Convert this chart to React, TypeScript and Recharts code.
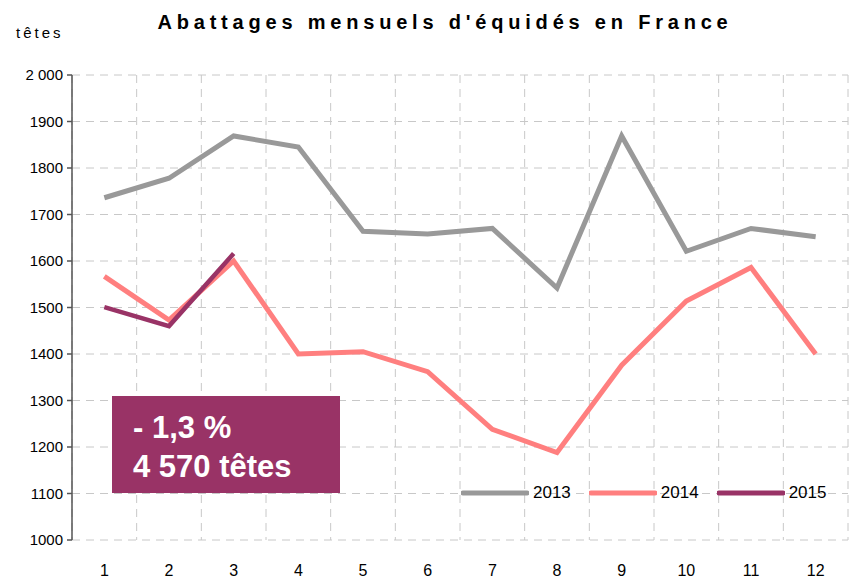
import { LineChart, Line, XAxis, YAxis, CartesianGrid, Legend } from "recharts";

const months = [1, 2, 3, 4, 5, 6, 7, 8, 9, 10, 11, 12];
const y2013 = [1736, 1778, 1869, 1845, 1664, 1658, 1670, 1542, 1869, 1621, 1670, 1652];
const y2014 = [1567, 1473, 1600, 1400, 1405, 1362, 1238, 1188, 1376, 1514, 1586, 1400];
const y2015 = [1501, 1460, 1616];
const yTicks = [1000, 1100, 1200, 1300, 1400, 1500, 1600, 1700, 1800, 1900, 2000];
const boundaries = [0.5, 1.5, 2.5, 3.5, 4.5, 5.5, 6.5, 7.5, 8.5, 9.5, 10.5, 11.5, 12.5];

const data = months.map((m, i) => ({
  m,
  y2013: y2013[i],
  y2014: y2014[i],
  y2015: i < y2015.length ? y2015[i] : null,
}));

const FONT = "'Liberation Sans', Arial, sans-serif";

function LegendContent({ payload }: any) {
  return (
    <div style={{ display: "flex", alignItems: "center", fontFamily: FONT, fontSize: 17, color: "#000" }}>
      {(payload || []).map((p: any) => (
        <div key={p.value} style={{ display: "flex", alignItems: "center", marginRight: 18 }}>
          <svg width={68} height={8} style={{ marginRight: 4 }}>
            <line x1={2} y1={4} x2={66} y2={4} stroke={p.color} strokeWidth={5} strokeLinecap="round" />
          </svg>
          <span>{p.value}</span>
        </div>
      ))}
    </div>
  );
}

export default function App() {
  return (
    <div style={{ position: "absolute", left: 0, top: 0, width: 849, height: 578, background: "#fff" }}>
      <div
        style={{
          position: "absolute",
          left: 0,
          width: 890,
          top: 11,
          textAlign: "center",
          fontFamily: FONT,
          fontWeight: "bold",
          fontSize: 20,
          letterSpacing: 4.8,
          color: "#000",
        }}
      >
        Abattages mensuels d'équidés en France
      </div>
      <div style={{ position: "absolute", left: 16, top: 24, fontFamily: FONT, fontSize: 15, letterSpacing: 3, color: "#000" }}>
        têtes
      </div>
      <LineChart width={849} height={578} data={data} margin={{ top: 75, right: 1, bottom: 0, left: 0 }}>
        <CartesianGrid xAxisId="grid" stroke="#c8c8c8" strokeDasharray="8 6" />
        <XAxis
          xAxisId="grid"
          dataKey="m"
          type="number"
          domain={[0.5, 12.5]}
          ticks={boundaries}
          tick={() => <g />}
          tickSize={6}
          height={0}
          stroke="#555"
          strokeWidth={1.5}
        />
        <XAxis
          dataKey="m"
          type="number"
          domain={[0.5, 12.5]}
          ticks={months}
          axisLine={false}
          tickLine={false}
          tickSize={0}
          tickMargin={25}
          height={38}
          tick={{ fill: "#000", fontSize: 16, fontFamily: FONT }}
        />
        <YAxis
          domain={[1000, 2000]}
          ticks={yTicks}
          width={72}
          stroke="#555"
          strokeWidth={1.5}
          tickSize={5}
          tickMargin={4}
          tick={{ fill: "#000", fontSize: 15, fontFamily: FONT }}
          tickFormatter={(v: number) => (v === 2000 ? "2 000" : String(v))}
        />
        <Legend
          layout="horizontal"
          verticalAlign="middle"
          content={<LegendContent />}
          wrapperStyle={{ position: "absolute", left: 461, top: 483, width: 400 }}
        />
        <Line dataKey="y2013" name="2013" stroke="#999999" strokeWidth={5} dot={false} isAnimationActive={false} />
        <Line dataKey="y2014" name="2014" stroke="#ff7f7f" strokeWidth={5} dot={false} isAnimationActive={false} />
        <Line dataKey="y2015" name="2015" stroke="#993366" strokeWidth={4.5} dot={false} isAnimationActive={false} />
      </LineChart>
      <div
        style={{
          position: "absolute",
          left: 112,
          top: 396,
          width: 228,
          height: 97,
          background: "#993366",
          color: "#fff",
          fontFamily: FONT,
          fontWeight: "bold",
          fontSize: 31,
          lineHeight: "39px",
          boxSizing: "border-box",
          padding: "12px 0 0 21px",
        }}
      >
        <div>- 1,3 %</div>
        <div>4 570 têtes</div>
      </div>
    </div>
  );
}
